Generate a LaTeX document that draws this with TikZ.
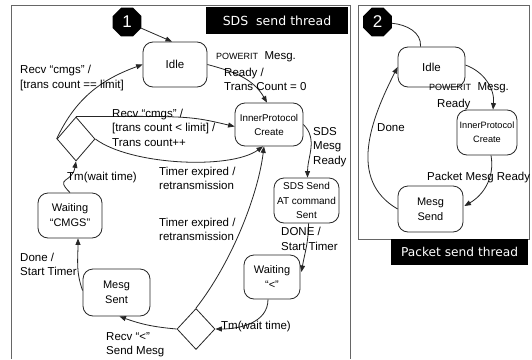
\documentclass[tikz,border=0pt]{standalone}
\usepackage{fontspec}
\setmainfont{Liberation Sans}
\newfontfamily\titlefont{DejaVu Sans}
\usetikzlibrary{arrows.meta,shapes.geometric,calc}
\newcommand{\lblfont}{\fontsize{11.5}{14.5}\selectfont}
\newcommand{\pwr}{{\fontsize{9}{10}\selectfont POWERIT}}
\begin{document}
\begin{tikzpicture}[x=1pt,y=1pt,
  st/.style={draw=black!85, line width=0.8pt, rounded corners=10pt, align=center, inner sep=0pt},
  big/.style={font=\fontsize{11}{15}\selectfont},
  small/.style={font=\fontsize{10}{14}\selectfont},
  dia/.style={draw=black!85, line width=0.8pt, diamond, inner sep=0pt},
  badge/.style={regular polygon, regular polygon sides=8, minimum size=31pt, fill=black, text=white, inner sep=0pt, font=\fontsize{17}{17}\selectfont},
  arr/.style={draw=black!85, line width=0.8pt, -{Triangle[length=6.5pt,width=5pt]}},
  ln/.style={draw=black!85, line width=0.8pt},
  lab/.style={align=left, inner sep=0pt, anchor=west, font=\lblfont},
  frame/.style={draw=black!60, line width=1pt},
  title/.style={fill=black, text=white, inner sep=0pt}
]
\useasboundingbox (0,0) rectangle (532,-359);
\fill[white] (0,0) rectangle (532,-359);

% frames
\draw[frame] (11,-359) -- (11,-5) -- (350,-5) -- (350,-359);
\draw[frame] (358,-5) rectangle (529,-239);

% titles
\node[title, minimum width=142pt, minimum height=27pt, font=\titlefont\fontsize{12.5}{13}\selectfont] (sdsTitle) at (277,-20.5) {SDS\ \ send thread};
\node[title, minimum width=137pt, minimum height=26pt, font=\titlefont\fontsize{12.2}{13}\selectfont] (pktTitle) at (459.5,-252) {Packet send thread};

% badges
\node[badge] (badge1) at (127,-22) {1};
\node[badge] (badge2) at (377.5,-22) {2};

% left states
\node[st, big, font=\fontsize{11.5}{14}\selectfont, minimum width=64pt, minimum height=45pt] (idleA) at (175,-64.5) {Idle};
\node[st, small, font=\fontsize{9.8}{14}\selectfont, minimum width=68pt, minimum height=43pt] (ipA) at (269,-124.5) {InnerProtocol\\Create};
\node[st, small, font=\fontsize{10}{14.5}\selectfont, minimum width=65pt, minimum height=45pt] (sdsA) at (306.5,-200.5) {SDS Send\\AT command\\Sent};
\node[st, big, minimum width=56pt, minimum height=44pt] (waitLt) at (272,-277) {Waiting\\“<”};
\node[st, big, minimum width=67pt, minimum height=47pt] (mesgSent) at (116.5,-292.5) {Mesg\\Sent};
\node[st, big, minimum width=64pt, minimum height=45pt] (waitCM) at (70,-215.5) {Waiting\\“CMGS”};
\node[dia, minimum width=38pt, minimum height=44pt] (diamA) at (76,-139) {};
\node[dia, minimum width=38pt, minimum height=41pt] (diamB) at (196,-329) {};

% left connectors
\draw[arr] (badge1) -- ($(idleA.north)+(-3,0)$);
\draw[arr] (diamA.west) to[out=65,in=200] (idleA.west);
\draw[arr] (diamA.north) .. controls (190,-116) .. ($(ipA.west)+(0,-2)$);
\draw[arr] (diamA.east) .. controls (130,-165) and (230,-170) .. ($(ipA.south)+(-6,0)$);
\draw[arr] (diamB.north) .. controls (232,-262) and (258,-195) .. ($(ipA.south)+(-5,0)$);
\draw[arr] (idleA.east) to[out=-15,in=120] ($(ipA.north)+(-2,0)$);
\draw[arr] (ipA.east) to[out=-45,in=90] ($(sdsA.north)+(1,0)$);
\draw[arr] ($(sdsA.south)+(2,0)$) to[out=-90,in=80] ($(waitLt.east)+(1,5)$);
\draw[arr] ($(waitLt.south)+(-4,0)$) to[out=-90,in=0] (diamB.east);
\draw[arr] (diamB.west) to[out=175,in=-20] ($(mesgSent.south)+(3,0)$);
\draw[arr] ($(mesgSent.west)+(0,2)$) to[out=110,in=-90] ($(waitCM.south)+(8,0)$);
\draw[arr] (waitCM.north) to[out=135,in=-100,looseness=1.8] (diamA.south);

% left labels
\node[lab] (l1) at (20,-78) {Recv “cmgs” /\\{}[trans count == limit]};
\node[lab] (l2) at (112,-127.5) {Recv “cmgs” /\\{}[trans count < limit] /\\Trans count++};
\node[lab] (l3) at (159,-178.5) {Timer expired /\\retransmission};
\node[lab] (l4) at (159,-229.5) {Timer expired /\\retransmission};
\node[lab] (l5) at (313,-147) {SDS\\Mesg\\Ready};
\node[lab] (l6) at (281,-239) {DONE /\\Start Timer};
\node[lab] (l7) at (221,-327) {Tm(wait time)};
\node[lab] (l8) at (106,-344.5) {Recv “<”\\Send Mesg};
\node[lab] (l9) at (20,-264.5) {Done /\\Start Timer};
\node[lab] (l10) at (67,-178) {Tm(wait time)};
\node[lab] (l11) at (216,-57) {\pwr\ \ Mesg.};
\node[lab] (l12) at (224,-79.5) {Ready /\\Trans Count = 0};

% right states
\node[st, big, font=\fontsize{11.5}{14}\selectfont, minimum width=67pt, minimum height=40pt] (idleB) at (431.5,-67) {Idle};
\node[st, font=\fontsize{9.2}{14}\selectfont, minimum width=60pt, minimum height=45pt] (ipB) at (487,-132.5) {InnerProtocol\\Create};
\node[st, big, minimum width=65pt, minimum height=46pt] (mesgSend) at (430.5,-209) {Mesg\\Send};

% right connectors
\draw[ln] (badge2) to[out=-5,in=85] ($(idleB.north)+(-11,0)$);
\draw[arr] ($(idleB.east)+(0,2)$) to[out=-20,in=85] ($(ipB.north)+(6,0)$);
\draw[arr] ($(ipB.south)+(4,0)$) to[out=-80,in=30] ($(mesgSend.east)+(1,3)$);
\draw[arr] (mesgSend.west) to[out=150,in=243,looseness=1.05] (idleB.west);

% right labels
\node[lab] (r1) at (429,-88) {\pwr\ \ Mesg.};
\node[lab] (r2) at (437,-105) {Ready};
\node[lab] (r3) at (427,-178) {Packet Mesg Ready};
\node[lab] (r4) at (377,-128) {Done};
\end{tikzpicture}
\end{document}
